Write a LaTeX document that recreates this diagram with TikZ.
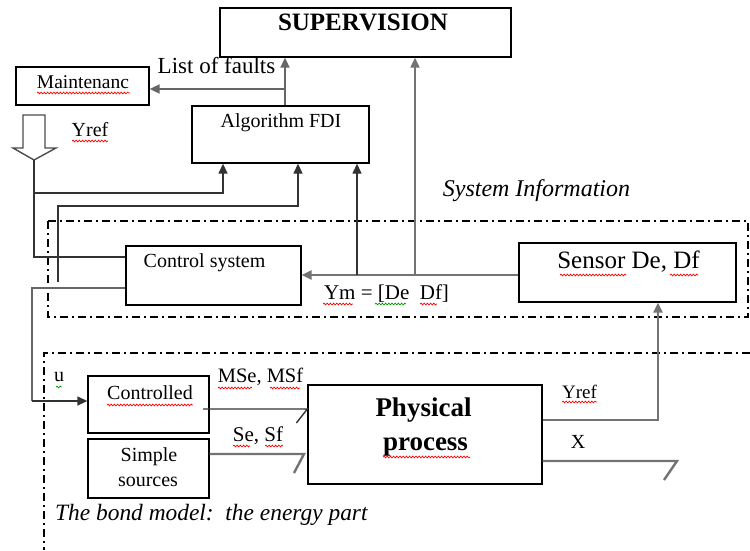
\documentclass[tikz,border=0pt]{standalone}
\usepackage{fontspec}
\setmainfont{Liberation Serif}
\usetikzlibrary{arrows.meta,decorations.pathmorphing}

\tikzset{
  box/.style={draw=black, line width=1.3pt, inner sep=0pt, fill=white},
  lbl/.style={inner sep=0pt, text height=0.66em, text depth=0pt},
  fnt/.style={font=\fontsize{#1}{#1}\selectfont},
  bfnt/.style={font=\bfseries\fontsize{#1}{#1}\selectfont},
  ifnt/.style={font=\itshape\fontsize{#1}{#1}\selectfont},
  thin wire/.style={draw=black!80, line width=1.3pt},
  wide wire/.style={draw=black!55, line width=2.4pt},
  tip/.style={-{Triangle[length=10pt,width=9pt]}},
  dashdot/.style={draw=black, line width=1.2pt, dash pattern=on 8pt off 4pt on 2pt off 4pt},
  spell/.style={draw=#1, line width=0.7pt, decorate,
    decoration={snake, amplitude=0.9pt, segment length=3.2pt}},
  spell/.default=red,
}

\begin{document}
\begin{tikzpicture}[x=1pt,y=-1pt]
\useasboundingbox[fill=white] (0,0) rectangle (750,550);

% information part and energy part frames
\draw[dashdot] (48,221) rectangle (748,317);
\draw[dashdot] (750,353) -- (44,353) -- (44,550);

% blocks
\node[box, minimum width=291pt, minimum height=49pt] (sup)   at (365.5,32.5) {};
\node[box, minimum width=133pt, minimum height=38pt] (maint) at (82.5,86) {};
\node[box, minimum width=177pt, minimum height=57pt] (fdi)   at (280.5,134.5) {};
\node[box, minimum width=175pt, minimum height=59pt] (ctrl)  at (213.5,275.5) {};
\node[box, minimum width=217pt, minimum height=59pt] (sens)  at (627.5,272.5) {};
\node[box, minimum width=121pt, minimum height=57pt] (cont)  at (148.5,404.5) {};
\node[box, minimum width=121pt, minimum height=59pt] (simp)  at (148.5,468.5) {};
\node[box, minimum width=234pt, minimum height=99pt] (phys)  at (425,434.5) {};

% block texts
\node[lbl, bfnt=25]  (suptxt)   at (363,27)   {SUPERVISION};
\node[lbl, fnt=19.5] (mainttxt) at (83,85)    {Maintenanc};
\node[lbl, fnt=20]   (fditxt)   at (281,124)  {Algorithm FDI};
\node[lbl, fnt=20]   (ctrltxt)  at (204.5,264) {Control system};
\node[lbl, fnt=25]   (senstxt)  at (628.5,265) {Sensor De, Df};
\node[lbl, fnt=20]   (conttxt)  at (150,396)  {Controlled};
\node[lbl, fnt=20]   (simptxt1) at (149,458)  {Simple};
\node[lbl, fnt=20]   (simptxt2) at (148,483)  {sources};
\node[lbl, bfnt=27]  (phystxt1) at (423.5,413) {Physical};
\node[lbl, bfnt=27]  (phystxt2) at (425.5,447) {process};

% signal labels
\node[lbl, fnt=23]   (lftxt)   at (216.5,70)  {List of faults};
\node[lbl, fnt=20]   (yreftop) at (90,133)    {Yref};
\node[lbl, ifnt=24]  (sysinfo) at (536.5,193) {System Information};
\node[lbl, fnt=21]   (ymtxt)   at (386.5,296) {Ym = [De\ \ Df]};
\node[lbl, fnt=20]   (utxt)    at (59,378)    {u};
\node[lbl, fnt=20.5] (msetxt)  at (260.5,379) {MSe, MSf};
\node[lbl, fnt=21]   (setxt)   at (258,438)   {Se, Sf};
\node[lbl, fnt=19]   (yrefrt)  at (579.5,395) {Yref};
\node[lbl, fnt=20]   (xtxt)    at (578,445)   {X};
\node[lbl, ifnt=23.4, anchor=west] (bond) at (55,517)
  {The bond model:\ \ the energy part};

% hollow reference arrow
\draw[draw=black!70, line width=1.4pt, fill=white, line join=miter]
  (23,115) -- (45,115) -- (45,148) -- (56,148) -- (34,160) -- (13,148) -- (23,148) -- cycle;
\coordinate (yreftip) at (34,160);

% list of faults: FDI to supervision and maintenance
\coordinate (lf) at (285,89);
\draw[thin wire, draw=black!60, line width=1.8pt, tip] (lf |- fdi.north) -- (lf |- sup.south);
\draw[thin wire, draw=black!60, line width=1.8pt, tip] (lf) -- (lf -| maint.east);

% reference into control system and FDI
\coordinate (k1) at (34,257);
\coordinate (k2) at (34,193);
\coordinate (in1) at (223,193);
\draw[thin wire] (yreftip) -- (k1) -- (k1 -| ctrl.west);
\draw[thin wire, tip] (k2) -- (in1) -- (in1 |- fdi.south);

% control output into FDI
\coordinate (k3) at (58,282);
\coordinate (k4) at (58,206);
\coordinate (in2) at (298,206);
\draw[thin wire, tip] (k3) -- (k4) -- (in2) -- (in2 |- fdi.south);

% control signal u to the controlled sources
\coordinate (k5) at (32,288);
\coordinate (k6) at (32,401);
\draw[wide wire, draw=black!60, line width=2pt] (k5 -| ctrl.west) -- (k5) -- (k6);
\draw[thin wire, tip] (k6) -- (k6 -| cont.west);

% measurements Ym
\coordinate (ym) at (0,275);
\coordinate (b1) at (357,275);
\coordinate (b2) at (415,275);
\draw[wide wire, tip] (ym -| sens.west) -- (ym -| ctrl.east);
\draw[thin wire, tip] (b1) -- (b1 |- fdi.south);
\draw[wide wire, line width=2pt, tip] (b2) -- (b2 |- sup.south);

% process output to sensor
\coordinate (yr) at (658,420);
\draw[wide wire, tip] (yr -| phys.east) -- (yr) -- (yr |- sens.south);

% bonds with half arrows
\coordinate (m1) at (203,409);
\draw[thin wire, line width=1.4pt] (m1) -- (m1 -| phys.west) -- ++(-11,14);
\coordinate (s1) at (304,454);
\draw[wide wire] (s1 -| simp.east) -- (s1) -- ++(-10,19);
\coordinate (x1) at (677,461);
\draw[wide wire] (x1 -| phys.east) -- (x1) -- ++(-13,19);

% spelling marks under words
\draw[spell] (37,93) -- (130,93);
\draw[spell] (72,141) -- (108,141);
\draw[spell] (323,304) -- (353,304);
\draw[spell=green!60!black] (375,304) -- (406,304);
\draw[spell] (420,304) -- (437,304);
\draw[spell] (560,275) -- (626,275);
\draw[spell] (670,275) -- (698,275);
\draw[spell=green!60!black] (56,387) -- (62,387);
\draw[spell] (107,405) -- (193,405);
\draw[spell] (218,388) -- (252,388);
\draw[spell] (270,388) -- (300,388);
\draw[spell] (233,446) -- (250,446);
\draw[spell] (265,446) -- (283,446);
\draw[spell] (562,402) -- (597,402);
\draw[spell] (383,457) -- (470,457);
\end{tikzpicture}
\end{document}
